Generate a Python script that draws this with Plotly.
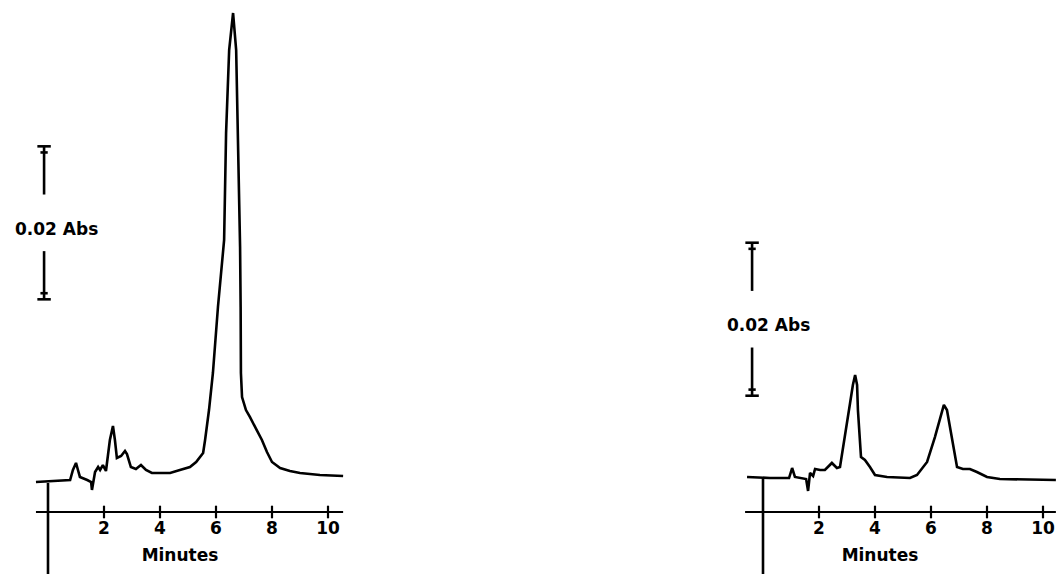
import plotly.graph_objects as go

# ---------------- data (minutes, absorbance) ----------------
left_time = [-0.43, 0.43, 0.79, 0.89, 1.00, 1.07, 1.14, 1.40, 1.54, 1.57, 1.63, 1.68, 1.79, 1.86,
             1.96, 2.07, 2.21, 2.32, 2.39, 2.46, 2.61, 2.75, 2.82, 2.96, 3.14, 3.32, 3.50,
             3.71, 3.93, 4.36, 4.71, 5.07, 5.29, 5.54, 5.61, 5.75, 5.89, 6.07, 6.29, 6.36,
             6.47, 6.61, 6.72, 6.79, 6.86, 6.88, 6.89, 6.93, 7.07, 7.21, 7.43,
             7.64, 7.82, 8.00, 8.29, 8.64, 9.00, 9.71, 10.54]
left_abs = [0.00392, 0.00405, 0.00418, 0.00549, 0.00641, 0.00549, 0.00458, 0.00418, 0.00392,
            0.00288, 0.00431, 0.00523, 0.00588, 0.00549, 0.00614, 0.00536, 0.00941, 0.01124,
            0.00941, 0.00706, 0.00732, 0.00797, 0.00758, 0.00588, 0.00562, 0.00614, 0.00549,
            0.00510, 0.00510, 0.00510, 0.00549, 0.00588, 0.00654, 0.00771, 0.00941, 0.01333,
            0.01817, 0.02680, 0.03556, 0.04954, 0.06039, 0.06523, 0.06039,
            0.04954, 0.03464, 0.02680, 0.01817, 0.01503, 0.01333, 0.01242, 0.01098, 0.00941,
            0.00784, 0.00654, 0.00575, 0.00536, 0.00510, 0.00484, 0.00471]

right_time = [-0.57, 0.25, 0.93, 1.04, 1.14, 1.54, 1.61, 1.68, 1.79, 1.86, 2.04, 2.21, 2.46,
              2.64, 2.75, 2.93, 3.11, 3.21, 3.29, 3.36, 3.39, 3.50, 3.64, 3.82, 4.00, 4.43,
              5.25, 5.50, 5.86, 6.14, 6.39, 6.46, 6.57, 6.75, 6.93, 7.14, 7.39, 7.64, 8.00,
              8.46, 10.46]
right_abs = [0.00458, 0.00444, 0.00444, 0.00575, 0.00458, 0.00431, 0.00275, 0.00510, 0.00471,
             0.00562, 0.00549, 0.00549, 0.00641, 0.00575, 0.00588, 0.00980, 0.01425, 0.01660,
             0.01791, 0.01660, 0.01333, 0.00719, 0.00680, 0.00588, 0.00484, 0.00458, 0.00444,
             0.00484, 0.00654, 0.00980, 0.01333, 0.01399, 0.01333, 0.00980, 0.00588, 0.00562,
             0.00562, 0.00523, 0.00458, 0.00431, 0.00418]

tick_vals = [2, 4, 6, 8, 10]
tick_labels = ["2", "4", "6", "8", "10"]
axis_title = "Minutes"
scale_label = "0.02 Abs"
scale_size = 0.02

# axis extents (minutes) and baseline start for vertical axes
left_axis_x = [-0.43, 10.54]
right_axis_x = [-0.64, 10.46]
left_vaxis_top = 0.00379
right_vaxis_top = 0.00444

# scale bars: x position, top value
left_bar_x, left_bar_top = -0.14, 0.0478
right_bar_x, right_bar_top = -0.39, 0.0352

YMIN, YMAX = -0.008105, 0.066928
BLACK = "black"
FONT = "DejaVu Sans"

fig = go.Figure()


def add_panel(xa, tx, ty, axis_x, vtop, bar_x, bar_top, label_x):
    # chromatogram
    fig.add_trace(go.Scatter(x=tx, y=ty, mode="lines", xaxis=xa, yaxis="y",
                             line=dict(color=BLACK, width=2.6, shape="linear")))
    # horizontal time axis
    fig.add_trace(go.Scatter(x=axis_x, y=[0, 0], mode="lines", xaxis=xa, yaxis="y",
                             line=dict(color=BLACK, width=2.2)))
    # crossing tick marks
    fig.add_trace(go.Scatter(x=tick_vals, y=[0] * len(tick_vals), mode="markers",
                             xaxis=xa, yaxis="y", cliponaxis=False,
                             marker=dict(symbol="line-ns", size=9,
                                         line=dict(color=BLACK, width=2.2))))
    # vertical axis from baseline down
    fig.add_trace(go.Scatter(x=[0, 0], y=[vtop, YMIN], mode="lines", xaxis=xa, yaxis="y",
                             line=dict(color=BLACK, width=2.6)))
    # scale bar
    bottom = bar_top - scale_size
    gap = 0.0037  # half the gap where the label sits
    mid = (bar_top + bottom) / 2
    cap = 0.0008
    w1, w2 = 0.24, 0.13
    xs = [bar_x, bar_x, None,
          bar_x, bar_x, None,
          bar_x - w1, bar_x + w1, None,
          bar_x - w2, bar_x + w2, None,
          bar_x - w1, bar_x + w1, None,
          bar_x - w2, bar_x + w2]
    ys = [bar_top, mid + gap, None,
          mid - gap, bottom, None,
          bar_top, bar_top, None,
          bar_top - cap, bar_top - cap, None,
          bottom, bottom, None,
          bottom + cap, bottom + cap]
    fig.add_trace(go.Scatter(x=xs, y=ys, mode="lines", xaxis=xa, yaxis="y",
                             line=dict(color=BLACK, width=2.6)))
    fig.add_annotation(x=label_x, y=mid - 0.0008, xref=xa, yref="y", text=scale_label,
                       showarrow=False, font=dict(family=FONT, size=17, color=BLACK,
                                                  weight="bold"))


add_panel("x", left_time, left_abs, left_axis_x, left_vaxis_top, left_bar_x, left_bar_top, 0.29)
add_panel("x2", right_time, right_abs, right_axis_x, right_vaxis_top, right_bar_x, right_bar_top, 0.18)

W, H = 1056, 574
axis_pos = 1 - 512 / H

common_x = dict(anchor="free", position=axis_pos, showline=False, showgrid=False,
                zeroline=False, ticks="", tickvals=tick_vals, ticktext=tick_labels,
                tickfont=dict(family=FONT, size=17, color=BLACK, weight="bold"),
                ticklabelstandoff=4,
                title=dict(text=axis_title, standoff=12,
                           font=dict(family=FONT, size=17, color=BLACK, weight="bold")))

fig.update_layout(
    width=W, height=H, autosize=False,
    margin=dict(l=0, r=0, t=0, b=0),
    paper_bgcolor="white", plot_bgcolor="white",
    showlegend=False,
    xaxis=dict(domain=[0, 360 / W], range=[-1.7143, 11.1429], **common_x),
    xaxis2=dict(domain=[704 / W, 1.0], range=[-2.1071, 10.4643], **common_x),
    yaxis=dict(domain=[0, 1], range=[YMIN, YMAX], visible=False),
)

fig.write_html("out.html", config={"displayModeBar": False},
               post_script="document.body.style.margin='0';document.body.style.overflow='hidden';")
